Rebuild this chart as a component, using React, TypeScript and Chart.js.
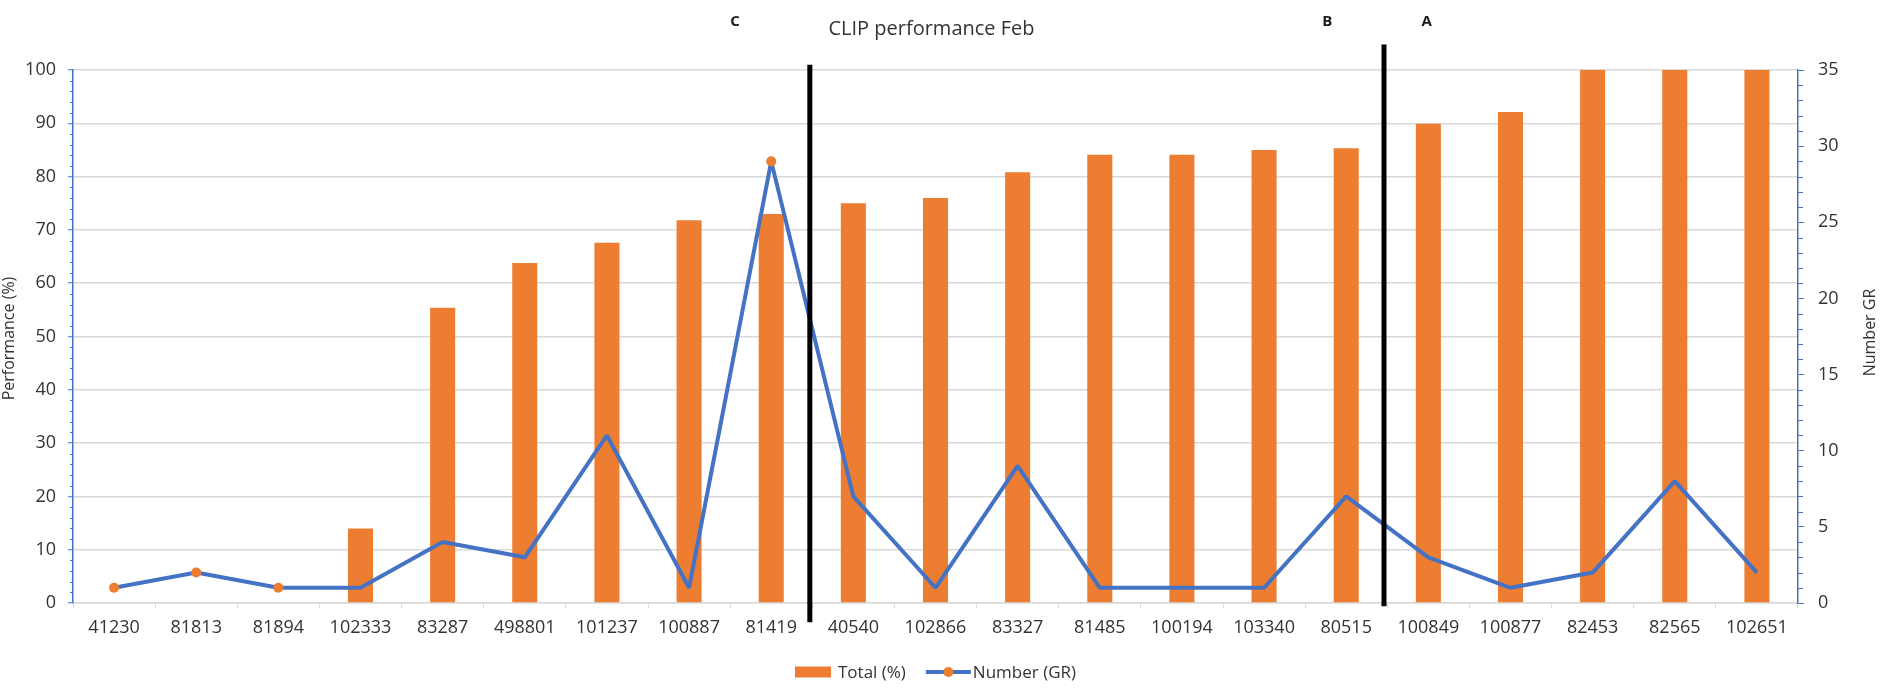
import React, { useEffect, useRef } from 'react';
import { Chart, registerables } from 'chart.js';

Chart.register(...registerables);

// ---------- data ----------
const categories = [
  '41230', '81813', '81894', '102333', '83287', '498801', '101237', '100887', '81419', '40540',
  '102866', '83327', '81485', '100194', '103340', '80515', '100849', '100877', '82453', '82565', '102651',
];
const totalPct = [0, 0, 0, 14, 55.4, 63.8, 67.6, 71.8, 73, 75, 76, 80.8, 84.1, 84.1, 85, 85.3, 89.9, 92.1, 100, 100, 100];
const numberGR = [1, 2, 1, 1, 4, 3, 11, 1, 29, 7, 1, 9, 1, 1, 1, 7, 3, 1, 2, 8, 2];
// which points show a marker in the reference
const markerShown = [true, true, true, false, false, false, false, false, true, false, false, false, false, false, false, false, false, false, false, false, false];

const leftAxis = { min: 0, max: 100, major: 10, minor: 2 };
const rightAxis = { min: 0, max: 35, major: 5, minor: 1 };

const chartTitle = 'CLIP performance Feb';
const leftTitle = 'Performance (%)';
const rightTitle = 'Number GR';
const seriesNames = ['Total (%)', 'Number (GR)'];

// group dividers (category-index position, left-axis value extent)
const dividers = [
  { at: 8.47, from: 101, to: -3.6 },
  { at: 15.46, from: 104.8, to: -0.6 },
];
const groupLabels = [
  { text: 'C', at: 7.56 },
  { text: 'B', at: 14.77 },
  { text: 'A', at: 15.98 },
];

// ---------- styles ----------
const FONT = '"Open Sans", "Liberation Sans", sans-serif';
const ORANGE = '#ED7D31';
const BLUE = '#4472C4';
const GRID = '#d9d9d9';
const TEXT = '#333333';

const decorPlugin = {
  id: 'decor',
  afterDatasetsDraw(chart: any) {
    const { ctx, scales } = chart;
    const x = scales.x;
    const y = scales.y;
    ctx.save();
    ctx.strokeStyle = '#000';
    ctx.lineWidth = 5;
    ctx.lineCap = 'butt';
    dividers.forEach((d) => {
      const px = x.getPixelForValue(d.at);
      ctx.beginPath();
      ctx.moveTo(px, y.getPixelForValue(d.from));
      ctx.lineTo(px, y.getPixelForValue(d.to));
      ctx.stroke();
    });
    ctx.restore();
  },
  afterDraw(chart: any) {
    const { ctx, scales, chartArea } = chart;
    const x = scales.x;
    const y = scales.y;
    const y1 = scales.y1;
    ctx.save();

    // minor ticks
    ctx.strokeStyle = BLUE;
    ctx.lineWidth = 1;
    for (let v = leftAxis.min; v <= leftAxis.max; v += leftAxis.minor) {
      if (v % leftAxis.major === 0) continue;
      const py = Math.round(y.getPixelForValue(v)) + 0.5;
      ctx.beginPath();
      ctx.moveTo(y.right - 3, py);
      ctx.lineTo(y.right, py);
      ctx.stroke();
    }
    for (let v = rightAxis.min; v <= rightAxis.max; v += rightAxis.minor) {
      if (v % rightAxis.major === 0) continue;
      const py = Math.round(y1.getPixelForValue(v)) + 0.5;
      ctx.beginPath();
      ctx.moveTo(y1.left, py);
      ctx.lineTo(y1.left + 5, py);
      ctx.stroke();
    }

    const cx = (chartArea.left + chartArea.right) / 2;
    const cy = (chartArea.top + chartArea.bottom) / 2;

    // title
    ctx.fillStyle = TEXT;
    ctx.font = `20px ${FONT}`;
    ctx.textAlign = 'center';
    ctx.textBaseline = 'middle';
    ctx.fillText(chartTitle, cx - 4, 29);

    // group labels
    ctx.fillStyle = '#1a1a1a';
    ctx.font = `bold 15px ${FONT}`;
    groupLabels.forEach((g) => {
      ctx.fillText(g.text, x.getPixelForValue(g.at), 22);
    });

    // axis titles
    ctx.fillStyle = TEXT;
    ctx.font = `16px ${FONT}`;
    ctx.save();
    ctx.translate(9, cy + 2);
    ctx.rotate(-Math.PI / 2);
    ctx.fillText(leftTitle, 0, 0);
    ctx.restore();
    ctx.save();
    ctx.translate(chart.width - 13, cy - 4);
    ctx.rotate(-Math.PI / 2);
    ctx.fillText(rightTitle, 0, 0);
    ctx.restore();

    // legend
    ctx.font = `17px ${FONT}`;
    ctx.textAlign = 'left';
    const w1 = ctx.measureText(seriesNames[0]).width;
    const w2 = ctx.measureText(seriesNames[1]).width;
    const boxW = 36, gapA = 7, gapB = 20, lineW = 45, gapC = 2;
    const total = boxW + gapA + w1 + gapB + lineW + gapC + w2;
    let lx = cx - total / 2;
    const ly = 672;
    ctx.fillStyle = ORANGE;
    ctx.fillRect(lx, ly - 5.5, boxW, 11);
    lx += boxW + gapA;
    ctx.fillStyle = TEXT;
    ctx.fillText(seriesNames[0], lx, ly + 1);
    lx += w1 + gapB;
    ctx.strokeStyle = BLUE;
    ctx.lineWidth = 4;
    ctx.beginPath();
    ctx.moveTo(lx, ly);
    ctx.lineTo(lx + lineW, ly);
    ctx.stroke();
    ctx.fillStyle = ORANGE;
    ctx.beginPath();
    ctx.arc(lx + lineW / 2, ly, 5, 0, Math.PI * 2);
    ctx.fill();
    lx += lineW + gapC;
    ctx.fillStyle = TEXT;
    ctx.fillText(seriesNames[1], lx, ly + 1);

    ctx.restore();
  },
};

export default function App() {
  const ref = useRef<HTMLCanvasElement | null>(null);

  useEffect(() => {
    const canvas = ref.current;
    if (!canvas) return;
    const chart = new Chart(canvas, {
      type: 'bar',
      data: {
        labels: categories,
        datasets: [
          {
            type: 'bar',
            label: seriesNames[0],
            data: totalPct,
            backgroundColor: ORANGE,
            borderWidth: 0,
            barPercentage: 0.305,
            categoryPercentage: 1,
            yAxisID: 'y',
            order: 2,
          } as any,
          {
            type: 'line',
            label: seriesNames[1],
            data: numberGR,
            borderColor: BLUE,
            borderWidth: 4,
            borderJoinStyle: 'bevel',
            borderCapStyle: 'butt',
            backgroundColor: ORANGE,
            pointBackgroundColor: ORANGE,
            pointBorderWidth: 0,
            pointRadius: markerShown.map((m) => (m ? 5 : 0)),
            pointHoverRadius: 0,
            tension: 0,
            fill: false,
            yAxisID: 'y1',
            order: 1,
          } as any,
        ],
      },
      options: {
        responsive: false,
        animation: false,
        devicePixelRatio: 1,
        layout: { padding: { top: 70, left: 0, right: 0, bottom: 0 } },
        plugins: {
          legend: { display: false },
          title: { display: false },
          tooltip: { enabled: false },
        },
        scales: {
          x: {
            offset: true,
            grid: {
              offset: true,
              drawOnChartArea: false,
              drawTicks: true,
              tickLength: 5,
              tickColor: GRID,
              color: GRID,
            },
            border: { color: GRID, width: 1.5 },
            ticks: {
              autoSkip: false,
              maxRotation: 0,
              minRotation: 0,
              padding: 9,
              color: TEXT,
              font: { family: FONT, size: 18 },
            },
            afterFit(scale: any) {
              scale.height = 88;
            },
          },
          y: {
            position: 'left',
            min: leftAxis.min,
            max: leftAxis.max,
            ticks: {
              stepSize: leftAxis.major,
              padding: 12,
              color: TEXT,
              font: { family: FONT, size: 18 },
            },
            grid: {
              color: GRID,
              lineWidth: 1.5,
              tickColor: BLUE,
              tickLength: 5,
              tickWidth: 1,
            },
            border: { color: BLUE, width: 1.5 },
            afterFit(scale: any) {
              scale.width = 73;
            },
          },
          y1: {
            position: 'right',
            min: rightAxis.min,
            max: rightAxis.max,
            ticks: {
              stepSize: rightAxis.major,
              padding: 14,
              color: TEXT,
              font: { family: FONT, size: 18 },
            },
            grid: {
              drawOnChartArea: false,
              tickColor: BLUE,
              tickLength: 6,
              tickWidth: 1,
            },
            border: { color: BLUE, width: 1.5 },
            afterFit(scale: any) {
              scale.width = 85;
            },
          },
        },
      } as any,
      plugins: [decorPlugin],
    });
    return () => chart.destroy();
  }, []);

  return (
    <div style={{ position: 'absolute', left: 0, top: 0, width: 1883, height: 691, background: '#fff' }}>
      <canvas ref={ref} width={1883} height={691} style={{ display: 'block', width: 1883, height: 691 }} />
    </div>
  );
}
